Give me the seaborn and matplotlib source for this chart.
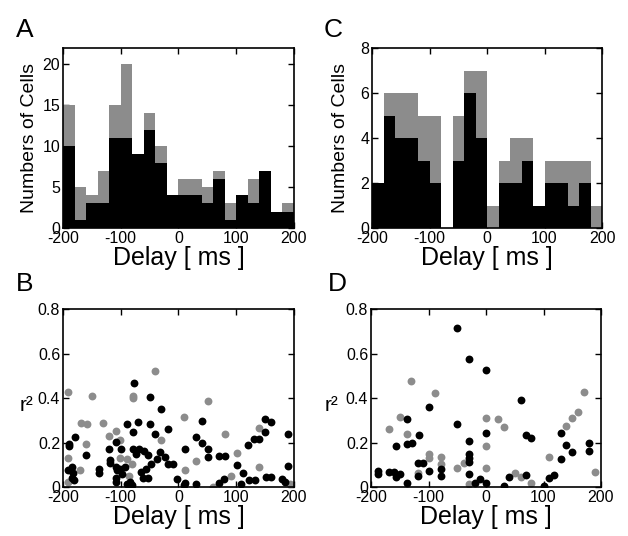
import numpy as np
import pandas as pd
import matplotlib
matplotlib.use("Agg")
import matplotlib.pyplot as plt
import seaborn as sns

# ---------------- data ----------------
bin_edges = np.arange(-200, 201, 20)

A_black = [10, 1, 3, 3, 11, 11, 9, 12, 8, 4, 4, 4, 3, 6, 1, 4, 3, 7, 2, 2]
A_total = [15, 5, 4, 7, 15, 20, 9, 14, 10, 4, 6, 6, 5, 7, 3, 4, 6, 7, 2, 3]

C_black = [2, 5, 4, 4, 3, 2, 0, 3, 6, 4, 0, 2, 2, 3, 1, 2, 2, 1, 2, 0]
C_total = [2, 6, 6, 6, 5, 5, 0, 5, 7, 7, 1, 3, 4, 4, 1, 3, 3, 3, 3, 1]

B_gray_x = [-40, -191, -150, -79, -79, 51, 10, -169, -159, -130, -109, -121, -101, -30,
            -161, 81, 140, -191, -102, -89, 31, 101, -170, -81, 11, 140, -86, 91, -191,
            59, 193]
B_gray_y = [0.522, 0.425, 0.408, 0.41, 0.40, 0.388, 0.316, 0.289, 0.285, 0.289, 0.252,
            0.228, 0.21, 0.213, 0.195, 0.237, 0.265, 0.132, 0.132, 0.128, 0.118, 0.153,
            0.076, 0.105, 0.076, 0.091, 0.049, 0.049, 0.024, 0.002, 0.014]

B_black_x = [-77, -50, -30, -70, -89, -50, -19, -79, -180, -190, -190, -40, -109, -120,
             -99, -160, -78, -69, -74, -60, -52, -32, -23, -37, -119, -118, -109, -101,
             -92, -98, -107, -48, -56, -65, -53, -61, -18, -9, -185, -191, -183, -185,
             -181, -138, -138, -109, -109, -84, -3, -90, -80,
             40, 150, 160, 150, 140, 130, 120, 189, 30, 40, 11, 51, 51, 70, 80, 101,
             111, 189, 11, 9, 30, 70, 79, 122, 132, 151, 160, 180, 184, 108]
B_black_y = [0.467, 0.403, 0.351, 0.292, 0.285, 0.285, 0.262, 0.248, 0.225, 0.195,
             0.185, 0.237, 0.202, 0.173, 0.173, 0.143, 0.17, 0.173, 0.15, 0.16, 0.143,
             0.156, 0.136, 0.128, 0.12, 0.108, 0.09, 0.083, 0.09, 0.06, 0.076, 0.105,
             0.083, 0.069, 0.039, 0.039, 0.105, 0.105, 0.09, 0.076, 0.061, 0.039, 0.031,
             0.083, 0.061, 0.039, 0.024, 0.024, 0.034, 0.012, 0.01,
             0.296, 0.306, 0.292, 0.247, 0.217, 0.214, 0.187, 0.237, 0.225, 0.198,
             0.173, 0.173, 0.133, 0.139, 0.139, 0.098, 0.064, 0.095, 0.019, 0.01,
             0.014, 0.017, 0.034, 0.03, 0.03, 0.045, 0.045, 0.038, 0.024, 0.012]

D_gray_x = [-130, -88, -150, -169, -138, 0, 21, 31, 0, -100, -100, -79, -79, -50, -38,
            0, -119, -29, 50, 60, 79, 100, 110, 140, 150, 160, 170, 189]
D_gray_y = [0.478, 0.421, 0.316, 0.26, 0.24, 0.311, 0.306, 0.27, 0.184, 0.147, 0.132,
            0.137, 0.105, 0.087, 0.106, 0.086, 0.064, 0.012, 0.064, 0.046, 0.016, 0.0,
            0.136, 0.273, 0.312, 0.335, 0.428, 0.068]

D_black_x = [-50, -29, 0, 60, -100, -50, -138, -117, -128, -138, -157, -29, 0, 70, 79,
             131, 140, 150, 180, 180, 131, -29, -29, -29, -119, -109, -100, -79, -79,
             -119, -188, -188, -169, -160, -156, -150, -138, -29, -19, -10, 0, 31, 40,
             70, 100, 110, 119]
D_black_y = [0.713, 0.574, 0.526, 0.391, 0.358, 0.282, 0.304, 0.233, 0.2, 0.192, 0.184,
             0.207, 0.244, 0.234, 0.219, 0.241, 0.188, 0.158, 0.2, 0.162, 0.124, 0.147,
             0.132, 0.114, 0.109, 0.109, 0.072, 0.049, 0.082, 0.049, 0.072, 0.057,
             0.066, 0.066, 0.047, 0.058, 0.019, 0.06, 0.019, 0.034, 0.019, 0.006, 0.043,
             0.054, 0.006, 0.039, 0.054]

x_ticks = [-200, -100, 0, 100, 200]
A_yticks = [0, 5, 10, 15, 20]
C_yticks = [0, 2, 4, 6, 8]
r2_yticks = [0, 0.2, 0.4, 0.6, 0.8]

GRAY = "#8c8c8c"

# ---------------- style ----------------
sns.set_style("ticks")
plt.rcParams["font.family"] = ["Liberation Sans", "DejaVu Sans"]
plt.rcParams["axes.unicode_minus"] = False
plt.rcParams["text.color"] = "black"
plt.rcParams["axes.labelcolor"] = "black"
plt.rcParams["xtick.color"] = "black"
plt.rcParams["ytick.color"] = "black"

fig = plt.figure(figsize=(6.28, 5.36), dpi=100)
axA = fig.add_axes([0.1003, 0.5746, 0.3678, 0.3358])
axC = fig.add_axes([0.5924, 0.5746, 0.3662, 0.3358])
axB = fig.add_axes([0.1003, 0.0914, 0.3678, 0.3321])
axD = fig.add_axes([0.5908, 0.0914, 0.3662, 0.3321])

centers = list((bin_edges[:-1] + bin_edges[1:]) / 2)


def hist_panel(ax, black, total, yticks, ymax, ylab_x):
    df = pd.DataFrame({"delay": centers, "total": total, "black": black})
    sns.histplot(data=df, x="delay", weights="total", bins=list(bin_edges),
                 color=GRAY, alpha=1, linewidth=0, ax=ax)
    sns.histplot(data=df, x="delay", weights="black", bins=list(bin_edges),
                 color="black", alpha=1, linewidth=0, ax=ax)
    ax.set_ylim(0, ymax)
    ax.set_yticks(yticks)
    ax.set_yticklabels([f"{t:g}" for t in yticks])
    ax.set_ylabel("Numbers of Cells", fontsize=14)
    ax.yaxis.set_label_coords(ylab_x, 0.5)
    ax.yaxis.label.set_va("center")


def scatter_panel(ax, gx, gy, bx, by, ylab_x):
    sns.scatterplot(x=gx, y=gy, color=GRAY, s=32, linewidth=0, ax=ax)
    sns.scatterplot(x=bx, y=by, color="black", s=32, linewidth=0, ax=ax)
    ax.set_ylim(0, 0.8)
    ax.set_yticks(r2_yticks)
    ax.set_yticklabels([f"{t:g}" for t in r2_yticks])
    ax.set_ylabel("r²", fontsize=15, rotation=0, ha="right", va="center")
    ax.yaxis.set_label_coords(ylab_x, 0.46)


hist_panel(axA, A_black, A_total, A_yticks, 22, -0.147)
hist_panel(axC, C_black, C_total, C_yticks, 8, -0.135)
scatter_panel(axB, B_gray_x, B_gray_y, B_black_x, B_black_y, -0.13)
scatter_panel(axD, D_gray_x, D_gray_y, D_black_x, D_black_y, -0.143)

for ax in (axA, axB, axC, axD):
    ax.set_xlim(-200, 200)
    ax.set_xticks(x_ticks)
    ax.set_xticklabels([f"{t:d}" for t in x_ticks])
    ax.set_xlabel("Delay [ ms ]", fontsize=18, labelpad=0.5)
    ax.tick_params(direction="in", top=True, right=True, length=4, width=1,
                   labelsize=11.5, pad=2, color="black")
    for sp in ax.spines.values():
        sp.set_visible(True)
        sp.set_color("black")
        sp.set_linewidth(1.2)

fig.text(16 / 628, 1 - 37 / 536, "A", fontsize=19, va="baseline", ha="left")
fig.text(324 / 628, 1 - 37 / 536, "C", fontsize=19, va="baseline", ha="left")
fig.text(16 / 628, 1 - 291 / 536, "B", fontsize=19, va="baseline", ha="left")
fig.text(328 / 628, 1 - 291 / 536, "D", fontsize=19, va="baseline", ha="left")

fig.savefig("out.png", dpi=100)
